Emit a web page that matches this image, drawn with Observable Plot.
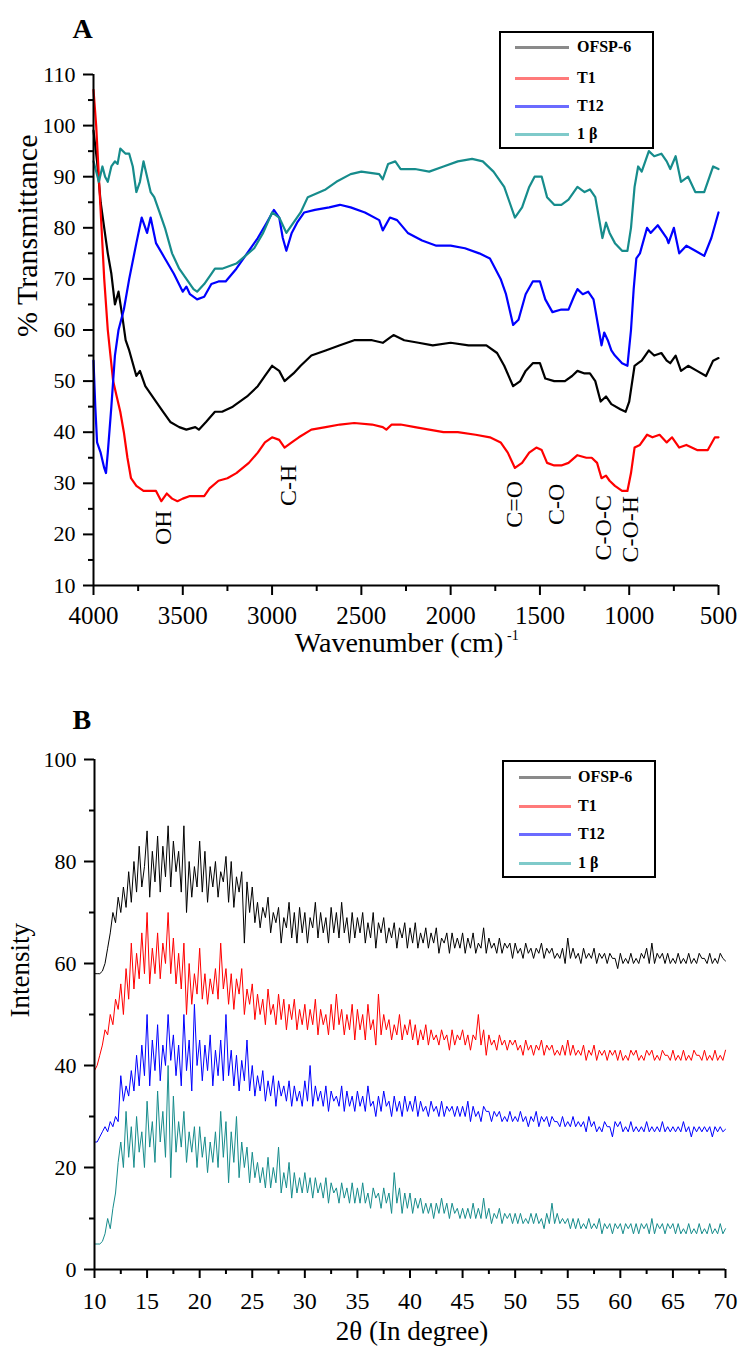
<!DOCTYPE html>
<html>
<head>
<meta charset="utf-8">
<script src="https://cdn.jsdelivr.net/npm/d3@7"></script>
<script src="https://cdn.jsdelivr.net/npm/@observablehq/plot@0.6"></script>
<style>
  html, body { margin: 0; padding: 0; background: #fff; }
  #wrap { position: relative; width: 742px; height: 1349px; overflow: hidden; font-family: "Liberation Serif", "Times New Roman", serif; }
  .panel { position: absolute; left: 0; }
  .legend { position: absolute; border: 2px solid #000; background: #fff; box-sizing: border-box; }
  .legend .sw { position: absolute; height: 3px; }
  .legend .lab { position: absolute; font: bold 16px "Liberation Serif", "Times New Roman", serif; line-height: 20px; white-space: nowrap; }
</style>
</head>
<body>
<div id="wrap"></div>
<script>
// ---------------- Series names & colours ----------------
const seriesNames = ["OFSP-6", "T1", "T12", "1 β"];
const seriesColors = ["#000000", "#ff0000", "#0000ff", "#168c8c"];
const legendColors = ["#8a8a8a", "#ff7a7a", "#6b6bff", "#7fcaca"];

// ---------------- Panel A: FTIR (wavenumber, % transmittance) ----------------
const ftirOFSP6 = [[4000,99],[3980,93],[3960,85],[3940,80],[3920,75],[3900,71],[3880,65],[3860,67.5],[3840,63],[3820,58],[3800,56],[3760,51],[3740,52],[3710,49],[3680,47.5],[3650,46],[3610,44],[3570,42],[3520,41],[3480,40.5],[3430,41],[3410,40.5],[3370,42],[3320,44],[3280,44],[3220,45],[3140,47],[3080,49],[3040,51],[3000,53],[2960,52],[2930,50],[2880,51.5],[2840,53],[2780,55],[2700,56],[2620,57],[2540,58],[2440,58],[2380,57.5],[2340,58.5],[2320,59],[2260,58],[2180,57.5],[2100,57],[2000,57.5],[1900,57],[1800,57],[1740,55.5],[1700,53],[1650,49],[1610,50],[1580,52],[1540,53.5],[1500,53.5],[1470,50.5],[1420,50],[1360,50],[1320,51],[1290,52],[1250,51.5],[1220,51.5],[1190,50],[1160,46],[1130,47],[1100,45.5],[1050,44.5],[1020,44],[1000,46],[970,53],[950,53.5],[930,54],[890,56],[860,55],[820,55.5],[790,54],[770,53.5],[740,55],[710,52],[670,53],[620,52],[570,51],[530,54],[500,54.5]];
const ftirT1 = [[4000,107],[3985,100],[3970,90],[3955,80],[3940,70],[3920,60],[3890,50],[3870,47],[3850,44],[3830,40],[3810,35],[3790,31],[3760,29.5],[3720,28.5],[3680,28.5],[3650,28.5],[3620,26.5],[3590,28],[3560,27],[3530,26.5],[3500,27],[3460,27.5],[3420,27.5],[3380,27.5],[3350,29],[3300,30.5],[3250,31],[3200,32],[3130,34],[3080,36],[3040,38],[3000,39],[2960,38.5],[2930,37],[2890,38],[2850,39],[2780,40.5],[2700,41],[2620,41.5],[2540,41.8],[2440,41.5],[2380,41],[2360,40.5],[2330,41.5],[2280,41.5],[2200,41],[2120,40.5],[2040,40],[1960,40],[1860,39.5],[1780,39],[1720,38],[1680,36],[1640,33],[1600,34],[1560,36],[1520,37],[1490,36.5],[1460,34],[1420,33.5],[1380,33.5],[1340,34],[1290,35.5],[1240,35],[1210,35],[1180,34],[1155,31],[1130,31.5],[1110,30.5],[1080,29.5],[1040,28.5],[1010,28.5],[990,32],[970,37],[940,37.5],[900,39.5],[870,39],[830,39.5],[790,38],[760,39],[720,37],[680,37.5],[620,36.5],[560,36.5],[520,39],[500,39]];
const ftirT12 = [[4000,54],[3990,45],[3980,38],[3960,36],[3940,33],[3930,32],[3920,36],[3900,45],[3880,55],[3860,60],[3830,64],[3800,70],[3760,77],[3730,82],[3700,79],[3680,82],[3650,77],[3600,74],[3550,71],[3500,67.5],[3480,68.5],[3460,67],[3420,66],[3380,66.5],[3340,69],[3300,69.5],[3260,69.5],[3200,72],[3140,75],[3080,78],[3030,81],[2990,83.5],[2960,82],[2940,78],[2920,75.5],[2890,79],[2860,81],[2820,83],[2760,83.5],[2680,84],[2620,84.5],[2560,84],[2480,83],[2400,81.5],[2380,79.5],[2340,82],[2300,81.5],[2240,79],[2160,77.5],[2080,76.5],[2000,76.5],[1920,76],[1840,75],[1780,74],[1720,70],[1690,67],[1650,61],[1620,62],[1580,67],[1540,69.5],[1500,69.5],[1470,66],[1430,63.5],[1380,64],[1340,64],[1310,66.5],[1290,68],[1260,67],[1230,67.5],[1200,66],[1170,60],[1155,57],[1140,59.5],[1120,58],[1100,56],[1080,55],[1040,53.5],[1010,53],[990,60],[975,68],[960,74],[940,75],[900,80],[880,79],[840,80.5],[790,78],[780,77],[750,80],[720,75],[680,76.5],[630,75.5],[580,74.5],[540,78],[500,83]];
const ftir1B = [[4000,93],[3985,91],[3970,89],[3950,92],[3935,90],[3920,89],[3900,92],[3880,93],[3865,92.5],[3850,95.5],[3820,94.5],[3800,94.5],[3780,92],[3760,87],[3740,89],[3720,93],[3700,90],[3680,87],[3660,86],[3630,83],[3600,80],[3560,75],[3520,72],[3480,70],[3440,68],[3420,67.5],[3380,69],[3340,71],[3320,72],[3280,72],[3200,73],[3100,76],[3050,79],[3000,83],[2960,82],[2920,79],[2880,81],[2840,83],[2800,86],[2700,87.5],[2640,89],[2560,90.5],[2500,91],[2400,90.5],[2380,89.5],[2350,92.5],[2310,93],[2280,91.5],[2200,91.5],[2120,91],[2040,92],[1960,93],[1880,93.5],[1820,93],[1760,91],[1700,88],[1670,85],[1640,82],[1600,84],[1560,88],[1530,90],[1490,90],[1460,86],[1420,84.5],[1380,84.5],[1340,85.5],[1290,88],[1250,87],[1220,87.5],[1190,86],[1160,80],[1150,78],[1130,81],[1110,79],[1080,77],[1040,75.5],[1010,75.5],[990,80],[970,88],[950,92],[930,91],[890,95],[860,94],[820,94.5],[790,93],[770,91.5],[740,94],[710,89],[670,90],[630,87],[580,87],[530,92],[500,91.5]];

const ftirXTicks = [4000, 3500, 3000, 2500, 2000, 1500, 1000, 500];
const ftirXMinor = [3750, 3250, 2750, 2250, 1750, 1250, 750];
const ftirYTicks = [10, 20, 30, 40, 50, 60, 70, 80, 90, 100, 110];
const ftirYMinor = [15, 25, 35, 45, 55, 65, 75, 85, 95, 105];

// band assignments: label, wavenumber, level (% T)
const bandLabels = ["OH", "C-H", "C=O", "C-O", "C-O-C", "C-O-H"];
const bandWave = [3608, 2908, 1642, 1407, 1144, 993];
const bandLevel = [21.3, 29.6, 25.9, 25.9, 21.3, 21.0];

// ---------------- Panel B: XRD (2θ from 10 to 70 in 0.25° steps) ----------------
const xrdStart = 10, xrdStep = 0.25;
const xrdOFSP6 = [
58,58,58,58.5,60,63,66,70,68,73,70,75,71,78,72,80,74,83,75,79,
86,73,82,76,85,74,83,77,87,75,84,78,82,74,87,70,80,73,79,75,
84,74,82,72,79,75,80,73,78,76,81,72,80,71,77,74,78,64,76,70,
75,68,72,67,71,69,73,66,70,68,71,64,69,67,72,65,70,64,71,66,
70,64,69,67,72,65,70,66,69,64,71,66,70,65,72,66,69,64,70,65,
69,66,70,64,68,65,70,63,68,66,69,64,67,65,68,63,67,65,68,63,
67,64,68,63,66,64,67,63,66,64,67,62,65,64,66,62,66,63,65,63,
66,62,65,63,66,62,64,63,67,62,65,63,64,62,65,62,64,63,64,61,
64,62,63,61,64,62,63,61,63,62,64,61,63,62,63,61,62,61,63,60,
65,61,63,61,62,60,63,61,62,61,63,60,62,61,62,60,62,61,61,59,
62,60,61,60,62,60,61,60,62,61,63,60,64,60,62,61,62,60,62,60,
61,60,62,60,61,60,62,60,61,60,62,61,61,60,62,60,61,60,62,61,
60.5];
const xrdT1 = [
39,40,42,44,47,46,50,48,53,51,56,50,59,53,64,55,62,57,66,58,
70,56,63,58,66,57,64,60,70,58,65,56,62,55,64,50,60,52,58,54,
63,53,58,52,57,54,59,53,64,55,59,52,58,51,57,54,59,50,55,52,
56,49,54,50,53,48,55,50,52,48,54,49,53,47,52,49,53,47,51,48,
52,47,51,48,53,46,51,48,50,46,52,47,54,48,51,46,50,47,52,45,
51,47,50,45,52,47,49,44,54,46,50,47,49,45,48,46,50,45,48,46,
49,45,48,44,47,45,48,44,47,45,46,44,47,45,46,43,47,44,46,45,
47,44,46,43,46,45,50,44,47,42,46,44,45,43,46,44,45,43,45,44,
45,43,44,42,45,43,44,42,44,43,45,42,44,43,44,42,43,42,44,42,
45,42,44,42,43,42,44,41,43,42,44,41,43,42,43,41,43,42,43,41,
43,41,42,41,43,42,43,41,42,41,43,42,43,41,42,41,43,42,42,41,
43,41,42,41,43,41,42,41,43,42,42,41,43,41,42,41,43,41,42,41,
43];
const xrdT12 = [
25,25,26,27,28,27,29,28,30,29,38,33,36,34,39,35,42,36,44,38,
50,36,45,39,48,37,44,40,50,41,46,38,44,36,50,39,45,35,52,40,
45,37,44,39,46,36,43,38,45,37,50,38,43,36,42,35,41,37,45,35,
40,34,38,35,39,33,37,34,38,32,37,34,36,33,37,32,36,33,35,32,
37,33,40,32,36,33,35,32,36,31,35,33,34,32,36,31,35,32,34,31,
35,32,34,31,36,32,33,30,34,31,35,32,33,30,34,31,33,30,34,31,
33,31,34,30,33,31,32,30,33,31,32,30,33,30,32,31,32,30,32,30,
32,30,33,29,32,30,31,29,32,31,31,29,31,30,31,29,30,29,31,29,
30,29,31,29,30,28,30,29,31,28,30,29,30,28,30,29,29,28,30,28,
29,28,30,28,29,28,29,27,30,28,29,27,28,27,29,28,28,26,29,28,
29,27,28,27,29,27,28,27,28,27,29,27,28,27,28,27,29,27,28,27,
28,27,28,27,29,27,28,26,28,27,28,27,28,27,28,26,28,27,28,27,
27.5];
const xrd1B = [
5,5,5,5.5,7,10,8,12,15,21,25,20,31,22,28,20,30,23,27,20,
33,24,29,21,35,25,31,22,40,18,34,23,29,24,31,21,27,23,28,20,
28,22,26,19,25,21,27,20,31,22,29,17,27,21,30,18,25,20,24,17,
23,18,21,17,20,16,22,16,20,17,24,15,19,16,21,14,19,15,18,15,
19,15,18,14,18,15,17,14,18,13,17,15,16,13,17,14,16,13,17,13,
16,13,17,13,15,12,16,14,15,12,16,13,15,11,19,13,16,11,15,12,
15,11,14,12,14,11,13,11,13,10,13,11,14,11,13,10,13,11,12,10,
12,10,12,10,13,10,12,10,14,10,12,9,11,10,12,9,11,10,11,9,
11,9,11,9,10,9,11,9,11,9,10,8,11,9,13,9,11,9,10,9,
10,8,10,8,10,8,9,8,10,8,9,8,10,7,9,8,9,7,9,8,
9,7,9,8,9,7,9,7,9,8,9,7,10,7,9,8,9,7,9,8,
9,7,9,7,8,7,9,7,8,7,9,7,8,7,9,7,8,7,9,7,
8];

const xrdXTicks = [10, 15, 20, 25, 30, 35, 40, 45, 50, 55, 60, 65, 70];
const xrdXMinor = [12.5, 17.5, 22.5, 27.5, 32.5, 37.5, 42.5, 47.5, 52.5, 57.5, 62.5, 67.5];
const xrdYTicks = [0, 20, 40, 60, 80, 100];
const xrdYMinor = [10, 30, 50, 70, 90];

// ---------------- Build tables ----------------
const ftirSeries = [ftirOFSP6, ftirT1, ftirT12, ftir1B];
const ftirData = ftirSeries.flatMap((s, k) => s.map(([w, t]) => ({ series: seriesNames[k], w, t })));
const xrdSeries = [xrdOFSP6, xrdT1, xrdT12, xrd1B];
const xrdData = xrdSeries.flatMap((s, k) => s.map((v, i) => ({ series: seriesNames[k], a: xrdStart + i * xrdStep, v })));
const bands = bandLabels.map((label, i) => ({ label, w: bandWave[i], t: bandLevel[i] }));

const FONT = '"Liberation Serif", "Times New Roman", serif';
const colorScale = { domain: seriesNames, range: seriesColors };
const fmt = d => String(d);

const wrap = document.getElementById("wrap");

// ---------------- Panel A ----------------
const chartA = Plot.plot({
  width: 742, height: 660,
  marginLeft: 93, marginRight: 24, marginTop: 74, marginBottom: 75,
  style: { fontFamily: FONT, background: "transparent", color: "#000", overflow: "visible" },
  x: { domain: [4000, 500] },
  y: { domain: [10, 110] },
  color: colorScale,
  marks: [
    Plot.line(ftirData, { x: "w", y: "t", z: "series", stroke: "series", strokeWidth: 2.2, curve: "linear" }),
    Plot.ruleX([4000], { stroke: "#000", strokeWidth: 2 }),
    Plot.ruleY([10], { stroke: "#000", strokeWidth: 2 }),
    Plot.axisY(ftirYTicks, { tickSize: 10, tickPadding: 8, fontSize: 22, strokeWidth: 2, tickFormat: fmt, label: null }),
    Plot.axisY(ftirYMinor, { tickSize: 5, strokeWidth: 2, tickFormat: () => "", label: null }),
    Plot.axisX(ftirXTicks, { tickSize: 10, tickPadding: 11, fontSize: 25, strokeWidth: 2, tickFormat: fmt, label: null }),
    Plot.axisX(ftirXMinor, { tickSize: 6, strokeWidth: 2, tickFormat: () => "", label: null }),
    Plot.text(bands, { x: "w", y: "t", text: "label", rotate: -90, fontSize: 24, fill: "#000", lineAnchor: "middle" }),
    Plot.text(["% Transmittance"], { frameAnchor: "left", lineAnchor: "middle", rotate: -90, dx: -66, dy: 7, fontSize: 30, fill: "#000" }),
    Plot.text(["Wavenumber (cm)"], { frameAnchor: "bottom", lineAnchor: "middle", dx: -7, dy: 58, fontSize: 28, fill: "#000" }),
    Plot.text(["-1"], { frameAnchor: "bottom", lineAnchor: "middle", textAnchor: "start", dx: 101, dy: 50, fontSize: 14, fill: "#000" }),
    Plot.text(["A"], { frameAnchor: "top-left", lineAnchor: "middle", textAnchor: "start", dx: -21, dy: -45, fontSize: 28, fontWeight: "bold", fill: "#000" })
  ]
});
chartA.classList.add("panel");
chartA.style.top = "0px";
wrap.appendChild(chartA);

// ---------------- Panel B ----------------
const chartB = Plot.plot({
  width: 742, height: 689,
  marginLeft: 94, marginRight: 17, marginTop: 99, marginBottom: 80,
  style: { fontFamily: FONT, background: "transparent", color: "#000", overflow: "visible" },
  x: { domain: [10, 70] },
  y: { domain: [0, 100] },
  color: colorScale,
  marks: [
    Plot.line(xrdData, { x: "a", y: "v", z: "series", stroke: "series", strokeWidth: 1 }),
    Plot.ruleX([10], { stroke: "#000", strokeWidth: 2 }),
    Plot.ruleY([0], { stroke: "#000", strokeWidth: 2 }),
    Plot.axisY(xrdYTicks, { tickSize: 10, tickPadding: 8, fontSize: 22, strokeWidth: 2, tickFormat: fmt, label: null }),
    Plot.axisY(xrdYMinor, { tickSize: 5, strokeWidth: 2, tickFormat: () => "", label: null }),
    Plot.axisX(xrdXTicks, { tickSize: 9, tickPadding: 13, fontSize: 24, strokeWidth: 2, tickFormat: fmt, label: null }),
    Plot.axisX(xrdXMinor, { tickSize: 5, strokeWidth: 2, tickFormat: () => "", label: null }),
    Plot.text(["Intensity"], { frameAnchor: "left", lineAnchor: "middle", rotate: -90, dx: -74, dy: 3, fontSize: 27, fill: "#000" }),
    Plot.text(["2θ (In degree)"], { frameAnchor: "bottom", lineAnchor: "middle", dx: 2, dy: 62, fontSize: 27, fill: "#000" }),
    Plot.text(["B"], { frameAnchor: "top-left", lineAnchor: "middle", textAnchor: "start", dx: -22, dy: -39, fontSize: 28, fontWeight: "bold", fill: "#000" })
  ]
});
chartB.classList.add("panel");
chartB.style.top = "660px";
wrap.appendChild(chartB);

// ---------------- Legends (HTML overlays) ----------------
function addLegend(box, rows, swX0, swX1, textX) {
  const lg = document.createElement("div");
  lg.className = "legend";
  Object.assign(lg.style, { left: box.left + "px", top: box.top + "px", width: box.width + "px", height: box.height + "px" });
  seriesNames.forEach((name, i) => {
    const cy = rows[i] - box.top - 2;
    const sw = document.createElement("div");
    sw.className = "sw";
    Object.assign(sw.style, { left: (swX0 - box.left - 2) + "px", width: (swX1 - swX0) + "px", top: (cy - 1.5) + "px", background: legendColors[i] });
    const lab = document.createElement("div");
    lab.className = "lab";
    lab.textContent = name;
    Object.assign(lab.style, { left: (textX - box.left - 2) + "px", top: (cy - 10) + "px" });
    lg.appendChild(sw);
    lg.appendChild(lab);
  });
  wrap.appendChild(lg);
}
addLegend({ left: 499, top: 31, width: 155, height: 118 }, [47, 78, 106, 134], 515, 569, 577);
addLegend({ left: 502, top: 760, width: 154, height: 118 }, [777, 806, 834, 863], 519, 571, 578);
</script>
</body>
</html>
